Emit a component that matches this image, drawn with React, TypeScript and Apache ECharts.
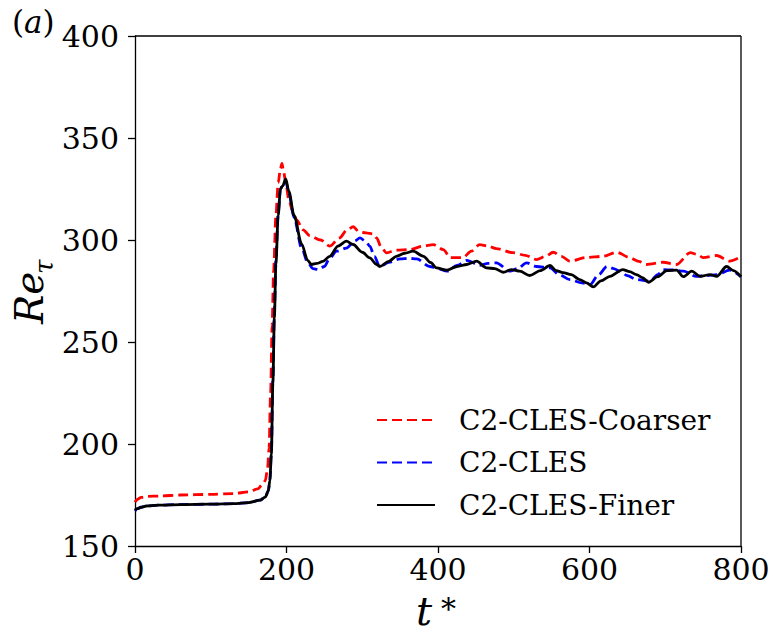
import React, { useEffect, useRef } from "react";
import * as echarts from "echarts";

const xTicks = [0, 200, 400, 600, 800];
const yTicks = [150, 200, 250, 300, 350, 400];
const seriesNames = ["C2-CLES-Coarser", "C2-CLES", "C2-CLES-Finer"];

const tCoarser = [0, 3, 8, 15, 33, 60, 100, 130, 150, 162, 168, 172, 175, 177, 179, 181, 183, 186, 189, 192, 194, 196, 199, 203, 208, 213, 222, 231, 245, 257, 270, 280, 288, 296, 305, 314, 319, 325, 332, 345, 363, 380, 394, 407, 416, 433, 444, 455, 466, 477, 499, 515, 530, 542, 552, 563, 574, 596, 618, 636, 653, 665, 675, 697, 715, 733, 742, 750, 768, 785, 800];
const reCoarser = [171.5, 172.8, 173.8, 174.3, 174.5, 175, 175.3, 175.7, 176.5, 178, 180, 182, 188, 198, 225, 258, 285, 312, 328, 335, 337.5, 334, 328, 320, 314, 310, 305, 302, 300, 297, 301, 305, 306.5, 304, 303.5, 303, 301, 296.5, 293.7, 295, 295.3, 297, 297.7, 295.3, 291.4, 291.4, 294.5, 297.7, 297, 295.8, 293.8, 292.5, 290.4, 292, 294, 292, 289.6, 291.4, 292, 294, 291.4, 289.5, 288, 289.1, 288, 293.8, 293, 291.4, 292.4, 289.6, 291.8];

const tCles = [0, 3, 8, 15, 30, 60, 100, 130, 150, 165, 172, 176, 178, 180, 182, 184, 186, 189, 192, 195, 199, 203, 210, 220, 228, 235, 242, 250, 257, 266, 279, 290, 297, 304, 310, 316, 323, 335, 350, 362, 372, 389, 400, 412, 425, 438, 455, 466, 477, 495, 505, 517, 530, 548, 560, 574, 590, 601, 612, 623, 632, 640, 650, 662, 680, 690, 697, 710, 724, 741, 755, 768, 785, 800];
const reCles = [167.2, 168.3, 169, 169.6, 170, 170.3, 170.5, 170.8, 171.3, 172.5, 174, 177, 182, 195, 232, 265, 290, 313, 325, 327, 329, 323, 311, 296, 289, 286, 285.5, 287, 291, 294.5, 296, 299.5, 301, 299.5, 297, 292, 287, 289, 290.7, 291, 290.7, 287, 286, 284.7, 287.5, 290, 287.6, 288.5, 288.8, 284.7, 286, 288.8, 287, 286.3, 283, 280.6, 279, 278.2, 283, 287, 286, 284.7, 282.5, 280.6, 279.8, 283, 285.5, 285.3, 284.7, 282.2, 282.5, 283, 285.2, 282];

const tFiner = [0, 3, 8, 15, 30, 60, 100, 130, 150, 165, 172, 176, 178, 180, 182, 184, 186, 189, 192, 195, 199, 203, 210, 220, 228, 233, 240, 248, 257, 268, 279, 288, 300, 310, 319, 323, 335, 345, 356, 367, 381, 390, 398, 412, 425, 438, 451, 464, 475, 486, 497, 508, 521, 535, 548, 556, 565, 576, 587, 596, 605, 615, 627, 644, 653, 662, 670, 678, 690, 702, 715, 724, 735, 746, 759, 768, 781, 790, 800];
const reFiner = [167.5, 168.3, 169, 169.6, 170, 170.3, 170.5, 170.8, 171.3, 172.5, 174, 177, 182, 195, 230, 262, 288, 312, 325, 326.5, 330, 324, 312, 298, 290, 288, 288.5, 289.5, 292, 297, 299.4, 297.8, 294, 291.2, 288, 287, 289.5, 292, 293.5, 294.5, 292, 289, 286.3, 285.2, 287, 288, 289.6, 286.3, 286, 284.2, 285.5, 284.7, 282.6, 285, 287.5, 285, 284, 283, 280.6, 279, 277, 280, 282.2, 285.5, 284.5, 283, 281.5, 279.3, 282, 285, 285.2, 282, 284.7, 282.2, 283, 282.2, 287, 285, 282];

const FONT = "DejaVu Serif";

function pairs(t: number[], v: number[]) {
  return t.map((x, i) => [x, v[i]]);
}

export default function App() {
  const ref = useRef<HTMLDivElement>(null);
  useEffect(() => {
    if (!ref.current) return;
    const chart = echarts.init(ref.current, undefined, { renderer: "svg" });
    const lineSeries = (name: string, data: number[][], color: string, dashed: boolean, z: number) => ({
      name,
      type: "line",
      data,
      symbol: "none",
      showSymbol: false,
      smooth: 0.3,
      smoothMonotone: "x",
      z,
      lineStyle: { color, width: 2.8, type: dashed ? [10, 5] : "solid" },
      itemStyle: { color },
    });
    chart.setOption({
      animation: false,
      backgroundColor: "#fff",
      grid: { left: 135, top: 36, right: 34, bottom: 88, show: false },
      xAxis: {
        type: "value",
        min: xTicks[0],
        max: xTicks[xTicks.length - 1],
        interval: 200,
        axisLine: { show: true, onZero: false, lineStyle: { color: "#000", width: 1.3 } },
        axisTick: { show: true, length: 7, lineStyle: { color: "#000", width: 1.3 } },
        axisLabel: { color: "#000", fontFamily: FONT, fontSize: 30, margin: 8 },
        splitLine: { show: false },
      },
      yAxis: {
        type: "value",
        min: yTicks[0],
        max: yTicks[yTicks.length - 1],
        interval: 50,
        axisLine: { show: true, onZero: false, lineStyle: { color: "#000", width: 1.3 } },
        axisTick: { show: true, length: 7, lineStyle: { color: "#000", width: 1.3 } },
        axisLabel: { color: "#000", fontFamily: FONT, fontSize: 30, margin: 16 },
        splitLine: { show: false },
      },
      legend: {
        orient: "vertical",
        left: 371,
        top: 399,
        itemWidth: 58,
        itemHeight: 14,
        itemGap: 10.5,
        data: seriesNames,
        itemStyle: { color: "rgba(0,0,0,0)", borderColor: "rgba(0,0,0,0)", borderWidth: 0 },
        textStyle: { color: "#000", fontFamily: FONT, fontSize: 28, lineHeight: 32, padding: [0, 0, 0, 19] },
      },
      graphic: [
        { type: "line", shape: { x1: 135, y1: 36, x2: 741, y2: 36 }, style: { stroke: "#000", lineWidth: 1.3 } },
        { type: "line", shape: { x1: 741, y1: 36, x2: 741, y2: 546 }, style: { stroke: "#000", lineWidth: 1.3 } },
        {
          type: "text",
          left: 12,
          top: 6,
          style: {
            text: "{n|(}{i|a}{n|)}",
            rich: {
              n: { fontFamily: FONT, fontSize: 31, fill: "#000" },
              i: { fontFamily: FONT, fontSize: 31, fontStyle: "italic", fill: "#000" },
            },
          },
        },
        {
          type: "group",
          x: 29,
          y: 293,
          rotation: Math.PI / 2,
          children: [
            { type: "text", x: -31, y: 0, style: { text: "Re", fontFamily: FONT, fontStyle: "italic", fontSize: 39, fill: "#000", align: "left", verticalAlign: "middle" } },
            { type: "text", x: 19, y: 15, style: { text: "τ", fontFamily: FONT, fontStyle: "italic", fontSize: 26, fill: "#000", align: "left", verticalAlign: "middle" } },
          ],
        },
        { type: "text", x: 416, y: 611, style: { text: "t", fontFamily: FONT, fontStyle: "italic", fontSize: 40, fill: "#000", align: "left", verticalAlign: "middle" } },
        { type: "text", x: 441, y: 608, style: { text: "*", fontFamily: FONT, fontSize: 30, fill: "#000", align: "left", verticalAlign: "middle" } },
      ],
      series: [
        lineSeries(seriesNames[0], pairs(tCoarser, reCoarser), "#ff0000", true, 2),
        lineSeries(seriesNames[1], pairs(tCles, reCles), "#0000ff", true, 3),
        lineSeries(seriesNames[2], pairs(tFiner, reFiner), "#000000", false, 4),
      ],
    });
    return () => chart.dispose();
  }, []);
  return <div ref={ref} style={{ position: "fixed", left: 0, top: 0, width: 775, height: 634 }} />;
}
